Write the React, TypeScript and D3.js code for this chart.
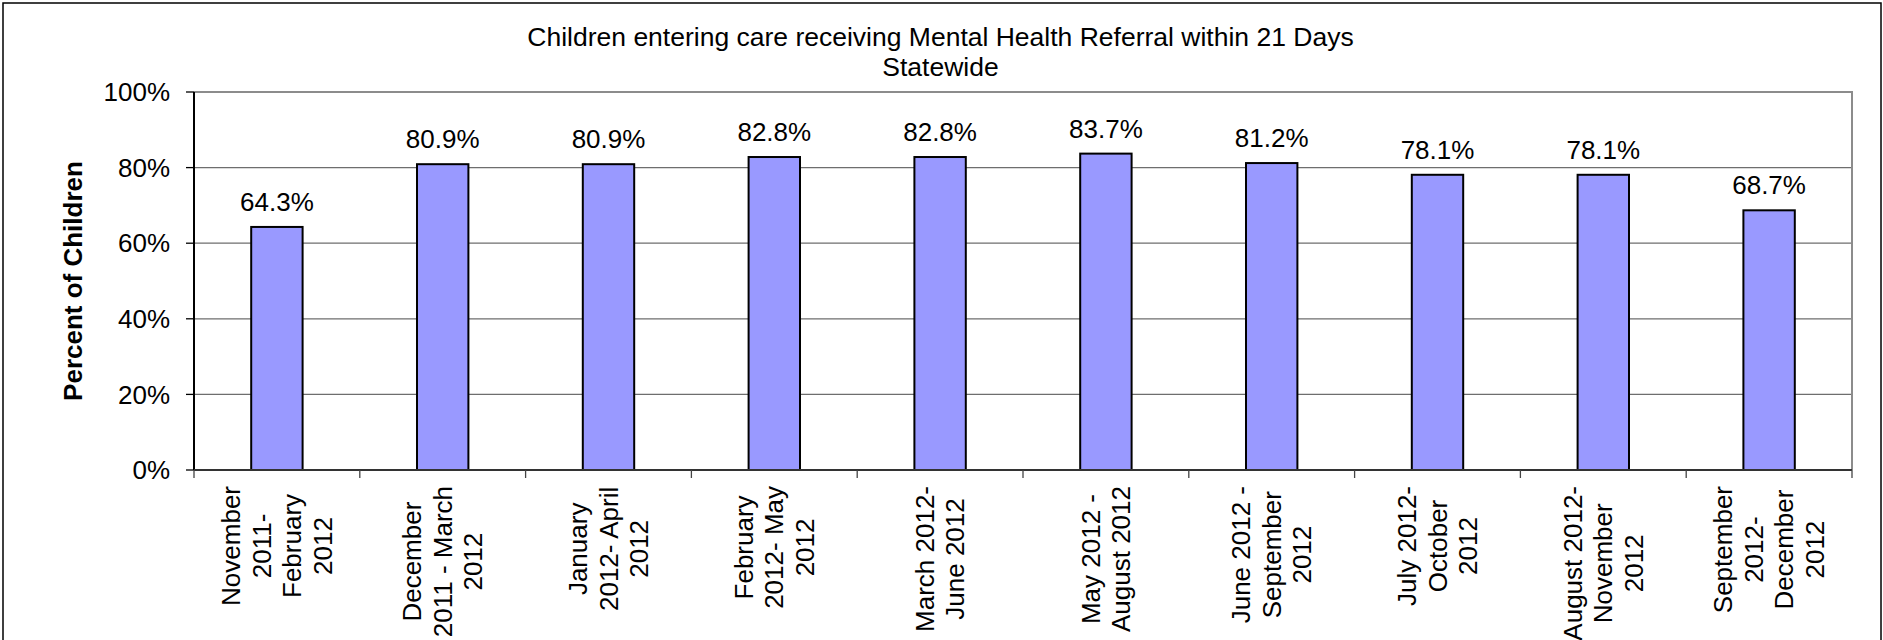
import React from "react";
import * as d3 from "d3";

const titleLines = [
  "Children entering care receiving Mental Health Referral within 21 Days",
  "Statewide",
];
const yAxisTitle = "Percent of Children";
const categoryLines: string[][] = [
  ["November", "2011-", "February", "2012"],
  ["December", "2011 - March", "2012"],
  ["January", "2012- April", "2012"],
  ["February", "2012- May", "2012"],
  ["March 2012-", "June 2012"],
  ["May 2012 -", "August 2012"],
  ["June 2012 -", "September", "2012"],
  ["July 2012-", "October", "2012"],
  ["August 2012-", "November", "2012"],
  ["September", "2012-", "December", "2012"],
];
const values = [64.3, 80.9, 80.9, 82.8, 82.8, 83.7, 81.2, 78.1, 78.1, 68.7];
const yTicks = [0, 20, 40, 60, 80, 100];

const W = 1883;
const H = 640;
const FONT = '"Liberation Sans", Arial, Helvetica, sans-serif';
const FS = 26;

let measureCtx: CanvasRenderingContext2D | null = null;
function measure(text: string): number {
  if (!measureCtx) {
    const c = document.createElement("canvas");
    measureCtx = c.getContext("2d");
  }
  if (!measureCtx) return text.length * FS * 0.5;
  measureCtx.font = `${FS}px ${FONT}`;
  return measureCtx.measureText(text).width;
}

export default function App() {
  const left = 194;
  const right = 1852;
  const top = 92;
  const bottom = 470;

  const x = d3
    .scaleBand<number>()
    .domain(values.map((_, i) => i))
    .range([left, right])
    .paddingInner(0)
    .paddingOuter(0);
  const y = d3.scaleLinear().domain([0, 100]).range([bottom, top]);
  const band = x.bandwidth();
  const barW = band * 0.31;
  const lineGap = 30.5;

  return (
    <svg
      width={W}
      height={H}
      style={{ position: "absolute", left: 0, top: 0, display: "block", background: "#fff" }}
      fontFamily={FONT}
    >
      <rect x={0} y={0} width={W} height={H} fill="#fff" />
      {/* outer chart border */}
      <rect x={3} y={3} width={1878} height={720} fill="none" stroke="#000" strokeWidth={1.5} />

      {/* title */}
      <text x={940.5} y={45.7} fontSize={26.5} textAnchor="middle" fill="#000">
        {titleLines[0]}
      </text>
      <text x={940.5} y={76} fontSize={26.5} textAnchor="middle" fill="#000">
        {titleLines[1]}
      </text>

      {/* gridlines */}
      {yTicks
        .filter((t) => t > 0 && t < 100)
        .map((t) => (
          <line key={t} x1={left} x2={right} y1={y(t)} y2={y(t)} stroke="#6e6e6e" strokeWidth={1.3} />
        ))}
      {/* plot frame top & right (gray) */}
      <line x1={left} x2={right + 1} y1={y(100)} y2={y(100)} stroke="#8c8c8c" strokeWidth={2} />
      <line x1={right} x2={right} y1={y(100)} y2={bottom} stroke="#8c8c8c" strokeWidth={2} />

      {/* bars */}
      {values.map((v, i) => {
        const cx = (x(i) as number) + band / 2;
        return (
          <g key={i}>
            <rect
              x={cx - barW / 2}
              y={y(v)}
              width={barW}
              height={bottom - y(v)}
              fill="#9999FF"
              stroke="#000"
              strokeWidth={2}
            />
            <text x={cx} y={y(v) - 16} fontSize={FS} textAnchor="middle" fill="#000">
              {v.toFixed(1)}%
            </text>
          </g>
        );
      })}

      {/* y axis */}
      <line x1={left} x2={left} y1={top} y2={bottom} stroke="#000" strokeWidth={2} />
      {yTicks.map((t) => (
        <g key={t}>
          <line x1={left - 8} x2={left} y1={y(t)} y2={y(t)} stroke="#000" strokeWidth={1.3} />
          <text x={170} y={y(t)} dy="0.35em" fontSize={FS} textAnchor="end" fill="#000">
            {t}%
          </text>
        </g>
      ))}

      {/* x axis */}
      <line x1={left} x2={right} y1={bottom} y2={bottom} stroke="#333" strokeWidth={2} />
      {d3.range(values.length + 1).map((i) => {
        const xx = i < values.length ? (x(i) as number) : right;
        return <line key={i} x1={xx} x2={xx} y1={bottom} y2={bottom + 8} stroke="#444" strokeWidth={1.3} />;
      })}

      {/* x labels */}
      {categoryLines.map((lines, i) => {
        const cx = (x(i) as number) + band / 2;
        const maxLen = Math.max(...lines.map(measure));
        const yc = 486 + maxLen / 2;
        const n = lines.length;
        return (
          <g key={i}>
            {lines.map((ln, j) => {
              const lx = cx + (j - (n - 1) / 2) * lineGap;
              return (
                <text
                  key={j}
                  transform={`translate(${lx},${yc}) rotate(-90)`}
                  dy="0.35em"
                  fontSize={FS}
                  textAnchor="middle"
                  fill="#000"
                >
                  {ln}
                </text>
              );
            })}
          </g>
        );
      })}

      {/* y axis title */}
      <text
        transform={`translate(82,${(top + bottom) / 2}) rotate(-90)`}
        fontSize={FS}
        fontWeight="bold"
        textAnchor="middle"
        fill="#000"
      >
        {yAxisTitle}
      </text>
    </svg>
  );
}
